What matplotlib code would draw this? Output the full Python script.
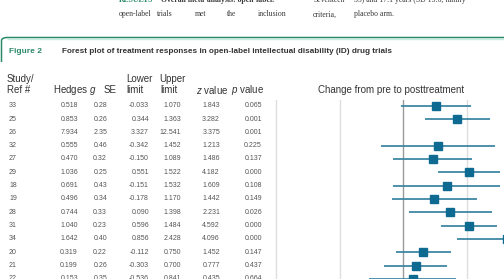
import matplotlib.pyplot as plt
from matplotlib.patches import FancyBboxPatch
from matplotlib.lines import Line2D

plt.rcParams["font.family"] = ["Liberation Sans", "DejaVu Sans"]
plt.rcParams["mathtext.fontset"] = "custom"
plt.rcParams["mathtext.it"] = "Liberation Sans:italic"

# table data (open-label trials)
study_ref = ["33", "25", "26", "32", "27", "29", "18", "19", "28", "31", "34", "20", "21", "22"]
hedges_g = [0.518, 0.853, 7.934, 0.555, 0.470, 1.036, 0.691, 0.496, 0.744, 1.040, 1.642, 0.319, 0.199, 0.153]
std_err = [0.28, 0.26, 2.35, 0.46, 0.32, 0.25, 0.43, 0.34, 0.33, 0.23, 0.40, 0.22, 0.26, 0.35]
lower = [-0.033, 0.344, 3.327, -0.342, -0.150, 0.551, -0.151, -0.178, 0.090, 0.596, 0.856, -0.112, -0.303, -0.536]
upper = [1.070, 1.363, 12.541, 1.452, 1.089, 1.522, 1.532, 1.170, 1.398, 1.484, 2.428, 0.750, 0.700, 0.841]
z_value = [1.843, 3.282, 3.375, 1.213, 1.486, 4.182, 1.609, 1.442, 2.231, 4.592, 4.096, 1.452, 0.777, 0.435]
p_value = [0.065, 0.001, 0.001, 0.225, 0.137, 0.000, 0.108, 0.149, 0.026, 0.000, 0.000, 0.147, 0.437, 0.664]

W, H = 504, 279
fig = plt.figure(figsize=(W / 100, H / 100), dpi=100)
fig.patch.set_facecolor("white")


def fx(x):
    return x / W


def fy(y):
    return 1 - y / H


def ftext(x, y, s, **kw):
    fig.text(fx(x), fy(y), s, **kw)


# page text above the figure box (clipped at top)
serif = dict(family=["Liberation Serif", "DejaVu Serif"], fontsize=5.6, color="#3a3a3a", va="baseline")
ftext(119, 1.5, "RESULTS", fontweight="bold", **{**serif, "color": "#2b8a6a"})
ftext(161, 1.5, "Overall meta-analysis: open-label.", fontweight="bold", **serif)
ftext(313, 1.5, "Seventeen", **serif)
ftext(354, 1.5, "55) and 17.1 years (SD 15.6, family", **serif)
for x, word in [(119, "open-label"), (157, "trials"), (195, "met"), (227, "the"),
                (258, "inclusion"), (313, "criteria,"), (354, "placebo arm.")]:
    ftext(x, 16.5, word, **serif)

# figure box border
green = "#2b8a6a"
box = FancyBboxPatch((fx(1.5), fy(400)), fx(600), fy(37.5) - fy(400),
                     boxstyle="round,pad=0,rounding_size=0.012",
                     transform=fig.transFigure, fc="none", ec=green, lw=1.1)
fig.patches.append(box)
fig.lines.append(Line2D([fx(8), fx(504)], [fy(39), fy(39)], transform=fig.transFigure,
                        color="#c8ece0", lw=1.0))
# end the left border under the header
fig.patches.append(plt.Rectangle((0, 0), fx(6), fy(62), transform=fig.transFigure,
                                 fc="white", ec="none", zorder=3))

ftext(9, 51, "Figure 2", fontsize=6, fontweight="bold", color=green, va="center")
ftext(62, 51, "Forest plot of treatment responses in open-label intellectual disability (ID) drug trials",
      fontsize=5.9, fontweight="bold", color="#333333", va="center")

# column headers
hdr = dict(fontsize=7, color="#333333", va="center")
ftext(7, 79, "Study/", **hdr)
ftext(7, 90, "Ref #", **hdr)
ftext(53, 90, r"Hedges $g$", **hdr)
ftext(104, 90, "SE", **hdr)
ftext(126, 79, "Lower", **hdr)
ftext(126, 90, "limit", **hdr)
ftext(159, 79, "Upper", **hdr)
ftext(160, 90, "limit", **hdr)
ftext(196, 90, r"$z$ value", **hdr)
ftext(231, 90, r"$p$ value", **hdr)
ftext(318, 90, "Change from pre to posttreatment", **hdr)

# row geometry
row0, step = 105.7, 13.32
top_px, bot_px = 100, 300
ylim = ((bot_px - row0) / step, (top_px - row0) / step)

tab = fig.add_axes([0, fy(bot_px), fx(250), (bot_px - top_px) / H])
tab.set_xlim(0, 250)
tab.set_ylim(*ylim)
tab.axis("off")
cell = dict(fontsize=5, color="#555555", va="center")
for i in range(len(study_ref)):
    tab.text(9, i, study_ref[i], ha="left", **cell)
    tab.text(78, i, f"{hedges_g[i]:.3f}", ha="right", **cell)
    tab.text(107, i, f"{std_err[i]:.2f}", ha="right", **cell)
    tab.text(149, i, f"{lower[i]:.3f}", ha="right", **cell)
    tab.text(181, i, f"{upper[i]:.3f}", ha="right", **cell)
    tab.text(220, i, f"{z_value[i]:.3f}", ha="right", **cell)
    tab.text(262, i, f"{p_value[i]:.3f}", ha="right", **cell)

# forest plot
zero_px, unit_px = 403, 63.5
left_px, right_px = 250, 600
ax = fig.add_axes([fx(left_px), fy(bot_px), fx(right_px - left_px), (bot_px - top_px) / H])
ax.set_xlim((left_px - zero_px) / unit_px, (right_px - zero_px) / unit_px)
ax.set_ylim(*ylim)
ax.axis("off")
for g in [-2, -1, 1, 2]:
    ax.axvline(g, color="#dedede", lw=1.0, zorder=0)
ax.axvline(0, color="#9a9a9a", lw=1.0, zorder=0)
rows = list(range(len(study_ref)))
ax.hlines(rows, lower, upper, color="#3f87a5", lw=1.3, zorder=2)
ax.plot(hedges_g, rows, "s", color="#0e6a91", ms=6, zorder=3)

fig.savefig("out.png", dpi=100)
